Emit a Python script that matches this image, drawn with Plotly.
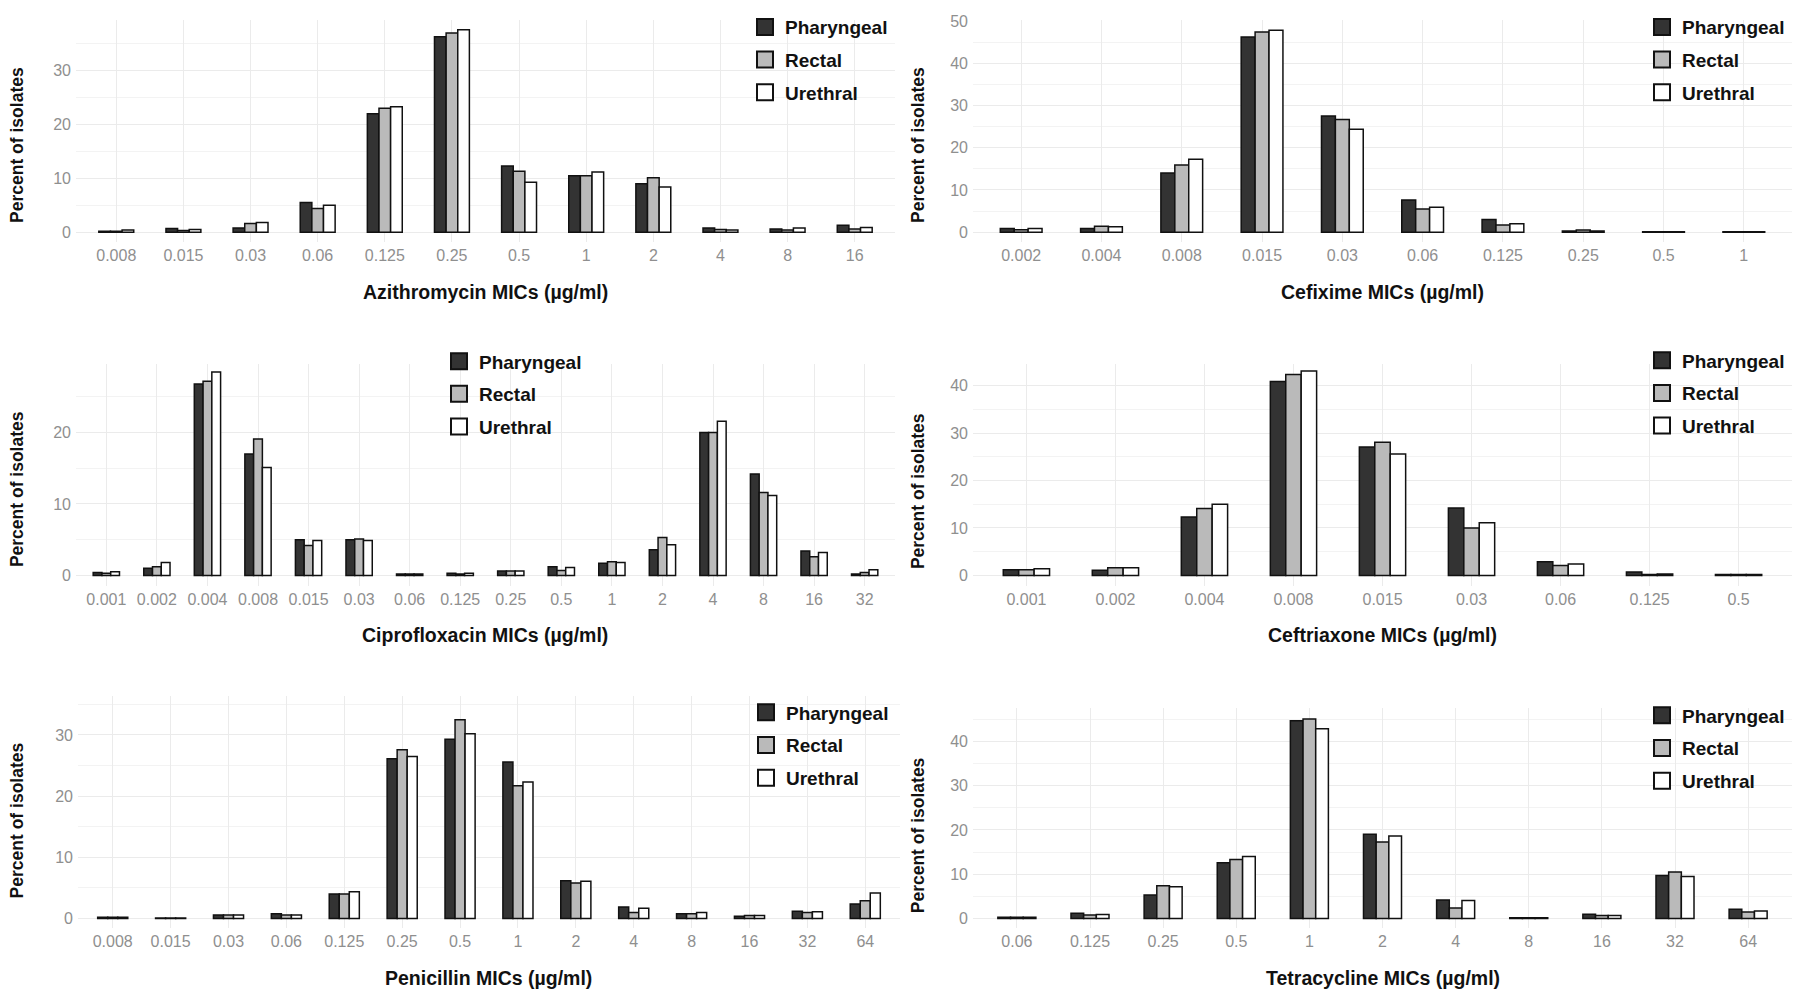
import plotly.graph_objects as go

# The page body keeps an 8px default margin, so the figure is sized to fit inside
# the 1800x997 window and all pixel geometry below is given in window pixels.
OFF = 8
W, H = 1800 - 2 * OFF, 997 - 2 * OFF

# ---------------- data ----------------
series_names = ["Pharyngeal", "Rectal", "Urethral"]
series_colors = ["#333333", "#bababa", "#ffffff"]

azi_mics = ["0.008", "0.015", "0.03", "0.06", "0.125", "0.25", "0.5", "1", "2", "4", "8", "16"]
azi_pharyngeal = [0.2, 0.7, 0.8, 5.5, 22.0, 36.3, 12.3, 10.5, 9.0, 0.8, 0.6, 1.3]
azi_rectal = [0.2, 0.3, 1.6, 4.4, 23.0, 37.0, 11.3, 10.5, 10.1, 0.5, 0.4, 0.6]
azi_urethral = [0.4, 0.5, 1.8, 5.0, 23.3, 37.6, 9.3, 11.2, 8.4, 0.4, 0.8, 0.9]

cfx_mics = ["0.002", "0.004", "0.008", "0.015", "0.03", "0.06", "0.125", "0.25", "0.5", "1"]
cfx_pharyngeal = [0.9, 0.9, 14.0, 46.2, 27.5, 7.6, 3.0, 0.3, 0.1, 0.1]
cfx_rectal = [0.6, 1.4, 15.9, 47.4, 26.7, 5.5, 1.7, 0.5, 0.1, 0.1]
cfx_urethral = [0.9, 1.3, 17.3, 47.8, 24.4, 5.9, 2.0, 0.3, 0.1, 0.1]

cip_mics = ["0.001", "0.002", "0.004", "0.008", "0.015", "0.03", "0.06", "0.125",
            "0.25", "0.5", "1", "2", "4", "8", "16", "32"]
cip_pharyngeal = [0.4, 1.0, 26.8, 17.0, 5.0, 5.0, 0.2, 0.3, 0.6, 1.2, 1.7, 3.6, 20.0, 14.2, 3.4, 0.2]
cip_rectal = [0.3, 1.2, 27.2, 19.1, 4.2, 5.1, 0.2, 0.2, 0.6, 0.7, 1.9, 5.3, 20.0, 11.6, 2.6, 0.4]
cip_urethral = [0.5, 1.8, 28.5, 15.1, 4.9, 4.9, 0.2, 0.3, 0.6, 1.1, 1.8, 4.3, 21.6, 11.2, 3.2, 0.8]

cro_mics = ["0.001", "0.002", "0.004", "0.008", "0.015", "0.03", "0.06", "0.125", "0.5"]
cro_pharyngeal = [1.2, 1.1, 12.3, 40.9, 27.1, 14.2, 2.9, 0.7, 0.2]
cro_rectal = [1.2, 1.6, 14.1, 42.4, 28.1, 10.0, 2.1, 0.2, 0.2]
cro_urethral = [1.4, 1.6, 15.0, 43.1, 25.6, 11.1, 2.4, 0.3, 0.2]

pen_mics = ["0.008", "0.015", "0.03", "0.06", "0.125", "0.25", "0.5", "1", "2", "4",
            "8", "16", "32", "64"]
pen_pharyngeal = [0.2, 0.1, 0.6, 0.8, 4.0, 26.1, 29.3, 25.6, 6.2, 1.9, 0.8, 0.4, 1.2, 2.4]
pen_rectal = [0.2, 0.1, 0.6, 0.6, 4.0, 27.6, 32.5, 21.7, 5.8, 1.0, 0.8, 0.5, 1.0, 2.9]
pen_urethral = [0.2, 0.1, 0.6, 0.6, 4.4, 26.5, 30.2, 22.3, 6.1, 1.7, 1.0, 0.5, 1.1, 4.2]

tet_mics = ["0.06", "0.125", "0.25", "0.5", "1", "2", "4", "8", "16", "32", "64"]
tet_pharyngeal = [0.3, 1.2, 5.3, 12.6, 44.6, 19.0, 4.2, 0.2, 1.0, 9.7, 2.1]
tet_rectal = [0.3, 0.8, 7.4, 13.3, 45.0, 17.3, 2.4, 0.2, 0.7, 10.5, 1.5]
tet_urethral = [0.3, 0.9, 7.2, 14.0, 42.8, 18.6, 4.1, 0.2, 0.7, 9.5, 1.7]

axis_titles = ["Azithromycin MICs (µg/ml)", "Cefixime MICs (µg/ml)",
               "Ciprofloxacin MICs (µg/ml)", "Ceftriaxone MICs (µg/ml)",
               "Penicillin MICs (µg/ml)", "Tetracycline MICs (µg/ml)"]
y_title = "Percent of isolates"

# ---------------- layout geometry (window pixels) ----------------
# x_left, x_right, y_top, y_bottom, y_zero, px_per_unit, xtitle_y, ytitle_x, ytitle_y, legend_x, legend_y
geom = [
    (76, 895, 12, 236, 226, 5.43, 286, 17, 138, 745, 0),
    (973, 1792, 12, 236, 226, 4.26, 286, 918, 138, 1642, 0),
    (76, 895, 359, 583, 572, 7.20, 632, 17, 485, 439, 337),
    (973, 1792, 359, 583, 572, 4.78, 632, 918, 487, 1642, 336),
    (78, 900, 694, 928, 918, 6.17, 978, 17, 819, 746, 691),
    (973, 1792, 706, 928, 918, 4.47, 978, 918, 834, 1642, 694),
]

panels = [
    (azi_mics, [azi_pharyngeal, azi_rectal, azi_urethral]),
    (cfx_mics, [cfx_pharyngeal, cfx_rectal, cfx_urethral]),
    (cip_mics, [cip_pharyngeal, cip_rectal, cip_urethral]),
    (cro_mics, [cro_pharyngeal, cro_rectal, cro_urethral]),
    (pen_mics, [pen_pharyngeal, pen_rectal, pen_urethral]),
    (tet_mics, [tet_pharyngeal, tet_rectal, tet_urethral]),
]

X_EXPAND = 0.6  # discrete-axis padding, in category units


def fx(a):
    return (a - OFF) / W


def fy(b):
    return 1 - (b - OFF) / H


TICK_FONT = dict(family="Liberation Sans", size=16, color="#8f8f8f")
XTITLE_FONT = dict(family="Liberation Sans", size=19.5, color="#111111", weight="bold")
YTITLE_FONT = dict(family="Liberation Sans", size=17.5, color="#111111", weight="bold")
LEGEND_FONT = dict(family="Liberation Sans", size=19, color="#111111", weight="bold")
GRID = "#ebebeb"
MINOR_GRID = "#f3f3f3"
OUTLINE = "#111111"

fig = go.Figure()
layout = dict(
    width=W, height=H,
    margin=dict(l=0, r=0, t=0, b=0),
    paper_bgcolor="white", plot_bgcolor="white",
    barmode="group", bargap=0.48, bargroupgap=0.0,
    annotations=[],
    showlegend=True,
)

for i, ((mics, vals), g) in enumerate(zip(panels, geom), start=1):
    xl, xr, yt, yb, y0, ppu, xty, ytx, yty, lgx, lgy = g
    xa = "x" if i == 1 else f"x{i}"
    ya = "y" if i == 1 else f"y{i}"
    lg = "legend" if i == 1 else f"legend{i}"
    for name, color, v in zip(series_names, series_colors, vals):
        fig.add_trace(go.Bar(
            x=mics, y=v, name=name, xaxis=xa, yaxis=ya,
            marker=dict(color=color, line=dict(color=OUTLINE, width=1.5)),
            showlegend=False, legendgroup=f"{name}{i}",
            hoverinfo="x+y+name",
        ))
    # legend entries with larger square keys
    for name, color in zip(series_names, series_colors):
        fig.add_trace(go.Scatter(
            x=[None], y=[None], mode="markers", name=name, xaxis=xa, yaxis=ya,
            marker=dict(symbol="square", size=16, color=color,
                        line=dict(color=OUTLINE, width=2)),
            legend=lg, legendgroup=f"{name}{i}", showlegend=True,
            hoverinfo="skip",
        ))
    lo = -(yb - y0) / ppu
    hi = (y0 - yt) / ppu
    n = len(mics)
    layout["xaxis" if i == 1 else f"xaxis{i}"] = dict(
        domain=[fx(xl), fx(xr)], anchor=ya, type="category",
        categoryorder="array", categoryarray=mics,
        range=[-X_EXPAND, n - 1 + X_EXPAND],
        showgrid=True, gridcolor=GRID, gridwidth=1,
        showline=False, zeroline=False, ticks="",
        tickfont=TICK_FONT, ticklabelstandoff=2,
    )
    layout["yaxis" if i == 1 else f"yaxis{i}"] = dict(
        domain=[fy(yb), fy(yt)], anchor=xa,
        range=[lo, hi], dtick=10, tick0=0,
        showgrid=True, gridcolor=GRID, gridwidth=1,
        minor=dict(dtick=5, tick0=0, showgrid=True, gridcolor=MINOR_GRID, gridwidth=1),
        showline=False, zeroline=False, ticks="",
        tickfont=TICK_FONT, ticklabelstandoff=4,
    )
    layout[lg] = dict(
        x=fx(lgx), y=fy(lgy), xanchor="left", yanchor="top",
        xref="paper", yref="paper",
        bgcolor="rgba(0,0,0,0)", borderwidth=0,
        font=LEGEND_FONT, itemsizing="trace",
        traceorder="grouped", tracegroupgap=5, itemwidth=30,
    )
    layout["annotations"].append(dict(
        text=axis_titles[i - 1], x=fx((xl + xr) / 2), y=fy(xty),
        xref="paper", yref="paper", xanchor="center", yanchor="middle",
        showarrow=False, font=XTITLE_FONT,
    ))
    layout["annotations"].append(dict(
        text=y_title, x=fx(ytx), y=fy(yty), textangle=-90,
        xref="paper", yref="paper", xanchor="center", yanchor="middle",
        showarrow=False, font=YTITLE_FONT,
    ))

fig.update_layout(**layout)
fig.write_html("out.html")
